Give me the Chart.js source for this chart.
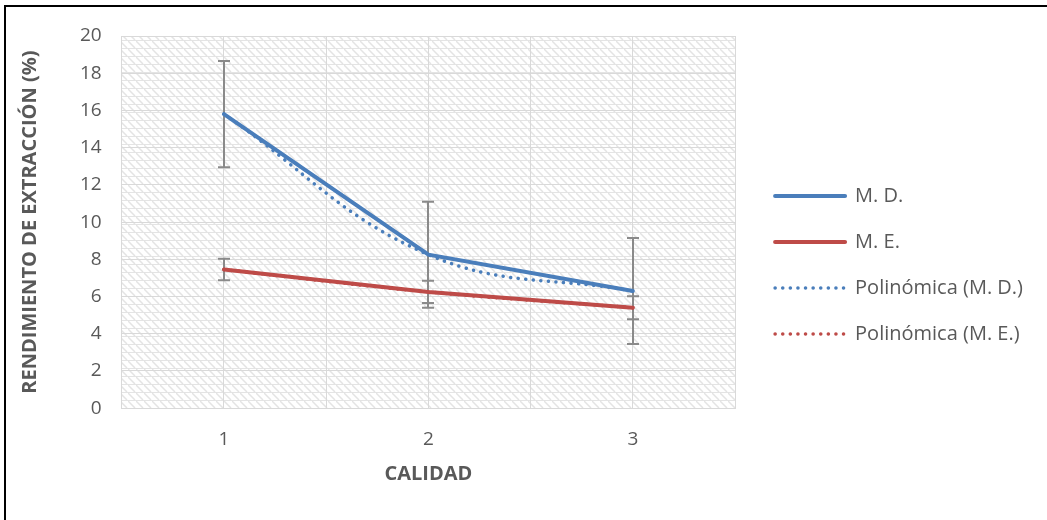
<!DOCTYPE html>
<html lang="es">
<head>
<meta charset="UTF-8">
<title>Rendimiento de extracción</title>
<script src="https://cdn.jsdelivr.net/npm/chart.js"></script>
<style>
  body { margin: 0; background: #fff; }
  #wrap { width: 1047px; height: 520px; position: relative; }
</style>
</head>
<body>
<div id="wrap"><canvas id="chart"></canvas></div>
<script>
// values
const calidad = [1, 2, 3];
const mdValues = [15.8, 8.25, 6.3];
const meValues = [7.45, 6.25, 5.4];
const mdError = [2.85, 2.85, 2.85];
const meError = [0.58, 0.6, 0.62];
// 2nd order trend lines pass through the three points
const polyMD = [15.8, 8.25, 6.3];
const polyME = [7.45, 6.25, 5.4];

const BLUE = '#4a7ebb';
const RED = '#be4b48';
const TEXT = '#595959';
const FONT = "'Open Sans', sans-serif";

function pts(vals) {
  return vals.map((v, i) => ({ x: calidad[i], y: v }));
}

// light diagonal hatch used by the plot area
const tile = document.createElement('canvas');
tile.width = 8; tile.height = 8;
const tctx = tile.getContext('2d');
tctx.fillStyle = '#fff';
tctx.fillRect(0, 0, 8, 8);
tctx.strokeStyle = '#e4e4e4';
tctx.lineWidth = 1;
tctx.beginPath();
tctx.moveTo(0, 0.5); tctx.lineTo(8, 0.5);
tctx.stroke();
tctx.lineWidth = 1.5;
tctx.beginPath();
tctx.moveTo(0, 1); tctx.lineTo(7, 8);
tctx.moveTo(-1, 0); tctx.lineTo(0, 1);
tctx.stroke();

const background = {
  id: 'background',
  afterLayout(chart) {
    // legend sits a bit further from the plot
    chart.legend.left += 14;
    chart.legend.right += 14;
    chart.legend.top += 4;
    chart.legend.bottom += 4;
  },
  beforeDraw(chart) {
    const { ctx, chartArea: a } = chart;
    ctx.save();
    ctx.fillStyle = '#fff';
    ctx.fillRect(0, 0, chart.width, chart.height);
    ctx.fillStyle = ctx.createPattern(tile, 'repeat');
    ctx.fillRect(a.left, a.top, a.right - a.left, a.bottom - a.top);
    ctx.strokeStyle = '#000';
    ctx.lineWidth = 2;
    ctx.beginPath();
    ctx.moveTo(5, chart.height); ctx.lineTo(5, 6); ctx.lineTo(chart.width, 6);
    ctx.stroke();
    ctx.restore();
  }
};

const errorBars = {
  id: 'errorBars',
  beforeDatasetsDraw(chart) {
    const { ctx, scales: { x, y } } = chart;
    ctx.save();
    ctx.strokeStyle = '#8a8a8a';
    ctx.lineWidth = 2;
    [[mdValues, mdError], [meValues, meError]].forEach(([vals, errs]) => {
      vals.forEach((v, i) => {
        const px = Math.round(x.getPixelForValue(calidad[i]));
        const top = y.getPixelForValue(v + errs[i]);
        const bot = y.getPixelForValue(v - errs[i]);
        ctx.beginPath();
        ctx.moveTo(px, top); ctx.lineTo(px, bot);
        ctx.moveTo(px - 6, top); ctx.lineTo(px + 6, top);
        ctx.moveTo(px - 6, bot); ctx.lineTo(px + 6, bot);
        ctx.stroke();
      });
    });
    ctx.restore();
  }
};

// point-style legend items take the point's style, so copy the line dash back
function legendLabels(chart) {
  const items = Chart.defaults.plugins.legend.labels.generateLabels(chart);
  items.forEach(item => {
    const ds = chart.data.datasets[item.datasetIndex];
    item.lineDash = ds.borderDash || [];
    item.lineCap = 'round';
    item.lineWidth = ds.borderWidth;
    item.strokeStyle = ds.borderColor;
  });
  return items;
}

new Chart(document.getElementById('chart'), {
  type: 'line',
  data: {
    datasets: [
      {
        label: 'M. D.', data: pts(mdValues), borderColor: BLUE, backgroundColor: BLUE,
        borderWidth: 4, tension: 0, pointRadius: 0, pointStyle: 'line',
        borderCapStyle: 'round', order: 3
      },
      {
        label: 'M. E.', data: pts(meValues), borderColor: RED, backgroundColor: RED,
        borderWidth: 4, tension: 0, pointRadius: 0, pointStyle: 'line',
        borderCapStyle: 'round', order: 4
      },
      {
        label: 'Polinómica (M. D.)', data: pts(polyMD), borderColor: BLUE, backgroundColor: BLUE,
        borderWidth: 3.5, tension: 0.4, pointRadius: 0, pointStyle: 'line',
        borderCapStyle: 'round', borderDash: [0.1, 7.5], order: 1
      },
      {
        label: 'Polinómica (M. E.)', data: pts(polyME), borderColor: RED, backgroundColor: RED,
        borderWidth: 3.5, tension: 0.4, pointRadius: 0, pointStyle: 'line',
        borderCapStyle: 'round', borderDash: [0.1, 7.5], order: 2
      }
    ]
  },
  options: {
    responsive: true,
    maintainAspectRatio: false,
    animation: false,
    layout: { padding: { left: 18, top: 36, right: 28, bottom: 34 } },
    plugins: {
      tooltip: { enabled: false },
      legend: {
        position: 'right',
        maxWidth: 400,
        labels: {
          usePointStyle: true, pointStyleWidth: 70, boxHeight: 2, padding: 26,
          color: TEXT, font: { family: FONT, size: 20 },
          generateLabels: legendLabels,
          sort: (a, b) => a.datasetIndex - b.datasetIndex
        }
      }
    },
    scales: {
      x: {
        type: 'linear', min: 0.5, max: 3.5,
        grid: { color: '#d9d9d9', drawTicks: false },
        border: { color: '#d9d9d9' },
        ticks: {
          stepSize: 0.5, padding: 20, color: TEXT, font: { family: FONT, size: 19 },
          callback: v => Number.isInteger(v) ? v : ''
        },
        title: {
          display: true, text: 'CALIDAD', color: TEXT, padding: { top: -9, bottom: 0 },
          font: { family: FONT, size: 20, weight: 'bold' }
        }
      },
      y: {
        min: 0, max: 20,
        grid: { color: '#d9d9d9', drawTicks: false },
        border: { color: '#d9d9d9' },
        ticks: { stepSize: 2, padding: 20, color: TEXT, font: { family: FONT, size: 19 } },
        title: {
          display: true, text: 'RENDIMIENTO DE EXTRACCIÓN (%)', color: TEXT,
          padding: { top: 0, bottom: 18 },
          font: { family: FONT, size: 20, weight: 'bold' }
        }
      }
    }
  },
  plugins: [background, errorBars]
});
</script>
</body>
</html>
